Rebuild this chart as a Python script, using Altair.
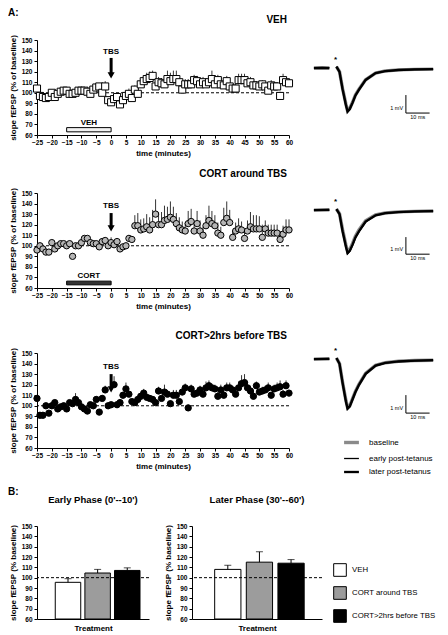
import altair as alt
import pandas as pd

FONT = "Liberation Sans"

# ---------------- time-course data (minutes, % of baseline) ----------------
time_min = [-25, -24, -23, -22, -21, -20, -19, -18, -17, -16,
            -15, -14, -13, -12, -11, -10, -9, -8, -7, -6,
            -5, -4, -3, -2, -1, 0, 1, 2, 3, 4,
            5, 6, 7, 8, 9, 10, 11, 12, 13, 14,
            15, 16, 17, 18, 19, 20, 21, 22, 23, 24,
            25, 26, 27, 28, 29, 30, 31, 32, 33, 34,
            35, 36, 37, 38, 39, 40, 41, 42, 43, 44,
            45, 46, 47, 48, 49, 50, 51, 52, 53, 54,
            55, 56, 57, 58, 59, 60]

veh_slope = [104, 97, 96, 95, 96, 100, 96, 99, 101, 102,
             102, 99, 99, 100, 102, 102, 102, 101, 99, 103,
             105, 106, 100, 106, 93, 91, 94, 96, 89, 93,
             97, 99, 95, 103, 99, 108, 111, 113, 114, 116,
             106, 110, 109, 108, 113, 111, 113, 113, 110, 103,
             108, 108, 108, 112, 111, 108, 110, 108, 110, 113,
             108, 112, 108, 107, 111, 106, 104, 104, 112, 112,
             112, 109, 110, 107, 107, 106, 108, 106, 102, 107,
             106, 106, 97, 112, 110, 109]
veh_sem = [3, 2, 2, 2, 2, 2, 2, 2, 2, 2,
           2, 2, 2, 2, 2, 2, 3, 2, 2, 3,
           3, 3, 2, 5, 3, 2, 3, 3, 3, 3,
           4, 5, 4, 4, 4, 5, 5, 6, 6, 5,
           4, 5, 5, 5, 8, 8, 8, 8, 5, 4,
           5, 5, 6, 5, 5, 5, 5, 5, 5, 8,
           5, 5, 6, 5, 5, 4, 4, 4, 6, 6,
           6, 5, 5, 4, 4, 4, 4, 4, 4, 5,
           4, 4, 4, 6, 5, 4]

cort_tbs_slope = [96, 100, 97, 94, 94, 103, 97, 100, 102, 102,
                  100, 102, 90, 100, 100, 103, 107, 107, 103, 102,
                  102, 99, 104, 105, 100, 103, 101, 104, 97, 99,
                  100, 107, 106, 119, 119, 115, 116, 118, 115, 120,
                  130, 120, 120, 124, 125, 127, 125, 121, 117, 115,
                  114, 121, 123, 114, 121, 114, 110, 119, 124, 121,
                  119, 112, 110, 122, 126, 122, 108, 114, 116, 115,
                  107, 114, 118, 116, 116, 116, 108, 116, 112, 112,
                  112, 112, 106, 111, 115, 115]
cort_tbs_sem = [2, 2, 2, 2, 2, 2, 2, 2, 2, 2,
                2, 2, 3, 2, 2, 2, 2, 2, 3, 2,
                2, 2, 3, 3, 2, 5, 2, 3, 2, 2,
                2, 3, 3, 10, 12, 10, 10, 12, 12, 14,
                14, 12, 12, 14, 12, 15, 12, 10, 10, 8,
                8, 12, 12, 10, 12, 10, 8, 10, 14, 12,
                10, 10, 8, 14, 16, 12, 6, 8, 10, 8,
                8, 10, 14, 13, 13, 12, 12, 8, 8, 8,
                8, 8, 8, 8, 10, 10]

cort_pre_slope = [107, 91, 91, 100, 93, 100, 103, 97, 99, 100,
                  97, 103, 102, 106, 103, 99, 97, 95, 101, 100,
                  106, 94, 107, 115, 100, 101, 120, 101, 103, 110,
                  116, 111, 104, 103, 106, 109, 112, 108, 107, 106,
                  103, 114, 107, 113, 111, 102, 110, 110, 104, 113,
                  117, 98, 116, 111, 112, 115, 111, 117, 119, 117,
                  116, 109, 115, 110, 117, 117, 115, 111, 117, 121,
                  122, 117, 114, 109, 119, 113, 114, 115, 117, 110,
                  116, 117, 118, 111, 119, 112]
cort_pre_sem = [3, 2, 2, 2, 2, 2, 2, 2, 2, 2,
                2, 2, 3, 6, 3, 2, 2, 2, 2, 2,
                3, 2, 3, 4, 2, 2, 8, 2, 3, 3,
                6, 3, 2, 3, 3, 3, 4, 3, 3, 3,
                3, 4, 3, 7, 4, 3, 5, 5, 3, 4,
                4, 3, 4, 4, 3, 4, 4, 6, 5, 4,
                4, 4, 5, 4, 5, 5, 4, 5, 6, 8,
                8, 6, 5, 4, 4, 3, 4, 4, 5, 3,
                4, 5, 6, 4, 5, 3]

x_ticks = [-25, -20, -15, -10, -5, 0, 5, 10, 15, 20, 25, 30, 35, 40, 45, 50, 55, 60]
y_ticks = [60, 70, 80, 90, 100, 110, 120, 130, 140, 150]

# TBS label / arrow (in % units), drug application bar
tbs_label_y = [139, 138, 137]
arrow_top = [133, 131, 130]
arrow_head = [116.5, 116.5, 115.5]
drug_start = -15
drug_end = 0

# ---------------- example traces (ms, mV) ----------------
trace_ms = [2.5, 6.0, 9.0, 12.0, 13.3, 14.6, 16.0, 16.7, 17.6, 18.8,
            20.0, 21.5, 24.3, 28.5, 32.6, 38.2, 45.0, 52.8]
trace_seg = ["pre", "pre", "pre"] + ["post"] * 15
series_names = ["baseline", "early post-tetanus", "later post-tetanus"]
series_width_order = ["baseline", "later post-tetanus", "early post-tetanus"]

veh_traces = [
    [0.0, 0.02, 0.0, 0.08, -0.2, -1.15, -2.0, -2.38, -2.25, -1.9, -1.5, -1.18, -0.65, -0.28, -0.16, -0.1, -0.07, -0.06],
    [0.0, 0.0, 0.02, 0.08, -0.22, -1.2, -2.08, -2.44, -2.3, -1.94, -1.55, -1.22, -0.67, -0.28, -0.17, -0.11, -0.08, -0.07],
    [0.0, 0.01, 0.0, 0.08, -0.21, -1.18, -2.05, -2.42, -2.28, -1.92, -1.52, -1.2, -0.66, -0.28, -0.17, -0.11, -0.07, -0.06],
]
cort_tbs_traces = [
    [0.0, 0.0, 0.02, 0.06, -0.2, -1.1, -1.95, -2.3, -2.2, -1.85, -1.45, -1.1, -0.6, -0.27, -0.16, -0.1, -0.07, -0.05],
    [0.0, 0.02, 0.0, 0.06, -0.22, -1.2, -2.05, -2.42, -2.3, -1.95, -1.55, -1.2, -0.66, -0.3, -0.17, -0.11, -0.08, -0.06],
    [0.0, 0.01, 0.01, 0.06, -0.22, -1.18, -2.02, -2.39, -2.27, -1.92, -1.52, -1.18, -0.64, -0.29, -0.17, -0.11, -0.07, -0.06],
]
cort_pre_traces = [
    [0.0, 0.0, 0.02, 0.06, -0.25, -1.3, -2.3, -2.7, -2.6, -2.2, -1.8, -1.4, -0.8, -0.35, -0.2, -0.12, -0.08, -0.06],
    [0.0, 0.02, 0.0, 0.06, -0.27, -1.35, -2.38, -2.78, -2.66, -2.26, -1.86, -1.45, -0.84, -0.37, -0.22, -0.13, -0.09, -0.07],
    [0.0, 0.01, 0.01, 0.06, -0.26, -1.33, -2.35, -2.75, -2.63, -2.23, -1.83, -1.43, -0.82, -0.36, -0.21, -0.13, -0.08, -0.06],
]
trace_ydomains = [[-3.72, 1.56], [-4.33, 0.95], [-4.94, 0.34]]
scalebar_ms = [41.3, 51.3]
scalebar_mv = [[-1.5, -2.5], [-1.5, -2.45], [-2.0, -3.0]]
stim_ms = 11.6
stim_mv = 0.45

# ---------------- summary bars ----------------
groups = ["VEH", "CORT around TBS", "CORT>2hrs before TBS"]
bar_colors = ["#ffffff", "#9c9c9c", "#000000"]
early_mean = [95.5, 104.5, 107.0]
early_sem = [3.5, 3.5, 2.5]
later_mean = [108.0, 115.0, 114.0]
later_sem = [4.0, 10.0, 3.5]
bar_floor = 60

TC_W, TC_H = 252, 95


def note(text, px, py, size, align="left", baseline="alphabetic", weight="bold"):
    """A free text label positioned in pixels relative to the panel's plot area."""
    return alt.Chart(pd.DataFrame({"lab": [text]})).mark_text(
        fontWeight=weight, fontSize=size, font=FONT, align=align, baseline=baseline, color="black"
    ).encode(x=alt.value(px), y=alt.value(py), text="lab:N")


def tc_panel(vals, errs, marker, fill, size, title, idx, toff,
             drug_label=None, drug_fill=None, drug_lo=None, drug_hi=None, corner=None):
    df = pd.DataFrame({"t": time_min, "v": vals,
                       "hi": [a + b for a, b in zip(vals, errs)]})
    xs = alt.Scale(domain=[-25, 60], nice=False, zero=False)
    ys = alt.Scale(domain=[60, 150], nice=False, zero=False)
    X = alt.X("t:Q", scale=xs, axis=alt.Axis(values=x_ticks, title="time (minutes)", labelOverlap=False,
                                             labelFlush=False, titlePadding=4, labelPadding=1))
    Y = alt.Y("v:Q", scale=ys, axis=alt.Axis(values=y_ticks, title="slope fEPSP (% of baseline)",
                                             labelOverlap=False, labelFlush=False, titlePadding=4,
                                             labelPadding=2))
    layers = []
    layers.append(alt.Chart(pd.DataFrame({"v": [100]})).mark_rule(
        color="black", strokeDash=[3, 2], strokeWidth=1).encode(y=Y))
    layers.append(alt.Chart(df).mark_rule(color="black", strokeWidth=0.8).encode(
        x=X, y=Y, y2="hi:Q"))
    layers.append(alt.Chart(df).mark_point(shape=marker, filled=True, fill=fill, stroke="black",
                                           strokeWidth=1, size=size, opacity=1).encode(x=X, y=Y))
    lab = pd.DataFrame({"t": [0], "v": [tbs_label_y[idx]], "lab": ["TBS"]})
    layers.append(alt.Chart(lab).mark_text(fontWeight="bold", fontSize=8, font=FONT,
                                           color="black").encode(x=X, y=Y, text="lab:N"))
    arr = pd.DataFrame({"t": [0], "v": [arrow_top[idx]], "v2": [arrow_head[idx]]})
    layers.append(alt.Chart(arr).mark_rule(color="black", strokeWidth=3).encode(
        x=X, y=Y, y2="v2:Q"))
    head = pd.DataFrame({"t": [0], "v": [arrow_head[idx]]})
    layers.append(alt.Chart(head).mark_point(shape="triangle-down", filled=True, color="black",
                                             size=50, opacity=1).encode(x=X, y=Y))
    if drug_label is not None:
        rect = pd.DataFrame({"t": [drug_start], "t2": [drug_end], "v": [drug_lo], "v2": [drug_hi]})
        layers.append(alt.Chart(rect).mark_rect(fill=drug_fill, stroke="black", strokeWidth=1).encode(
            x=X, x2="t2:Q", y=Y, y2="v2:Q"))
        dl = pd.DataFrame({"t": [(drug_start + drug_end) / 2], "v": [71.5], "lab": [drug_label]})
        layers.append(alt.Chart(dl).mark_text(fontWeight="bold", fontSize=8, font=FONT,
                                              color="black").encode(x=X, y=Y, text="lab:N"))
    layers.append(note(title, TC_W - 2, -toff, 10, align="right"))
    if corner is not None:
        layers.append(note(corner, -29, -32, 10, baseline="top"))
    return alt.layer(*layers).properties(width=TC_W, height=TC_H)


def trace_panel(traces, idx, show_legend):
    rows = []
    for name, vals in zip(series_names, traces):
        for ms, mv, sg in zip(trace_ms, vals, trace_seg):
            rows.append({"ms": ms, "mv": mv, "series": name, "seg": sg})
    df = pd.DataFrame(rows)
    xs = alt.Scale(domain=[0, 54], nice=False, zero=False)
    ys = alt.Scale(domain=trace_ydomains[idx], nice=False, zero=False)
    X = alt.X("ms:Q", scale=xs, axis=None)
    Y = alt.Y("mv:Q", scale=ys, axis=None)
    if show_legend:
        leg = alt.Legend(orient="none", legendX=34, legendY=80, title=None, symbolType="stroke",
                         symbolSize=220, labelFont=FONT, labelFontSize=8, labelFontWeight="normal",
                         rowPadding=0, labelOffset=8, values=series_names)
    else:
        leg = None
    lines = alt.Chart(df).mark_line().encode(
        x=X, y=Y,
        color=alt.Color("series:O", scale=alt.Scale(domain=series_width_order,
                                                   range=["#8a8a8a", "#000000", "#000000"]), legend=leg),
        strokeWidth=alt.StrokeWidth("series:O", scale=alt.Scale(type="point", domain=series_width_order,
                                                                 range=[3.4, 1.3]), legend=leg),
        detail="seg:N")
    top, bot = scalebar_mv[idx]
    vb = alt.Chart(pd.DataFrame({"ms": [scalebar_ms[0]], "mv": [top], "mv2": [bot]})).mark_rule(
        color="black", strokeWidth=1).encode(x=X, y=Y, y2="mv2:Q")
    hb = alt.Chart(pd.DataFrame({"ms": [scalebar_ms[0]], "ms2": [scalebar_ms[1]], "mv": [bot]})).mark_rule(
        color="black", strokeWidth=1).encode(x=X, x2="ms2:Q", y=Y)
    mvlab = alt.Chart(pd.DataFrame({"ms": [scalebar_ms[0] - 1.2], "mv": [bot + 0.3], "lab": ["1 mV"]})).mark_text(
        fontSize=5.5, font=FONT, align="right", color="black").encode(x=X, y=Y, text="lab:N")
    mslab = alt.Chart(pd.DataFrame({"ms": [(scalebar_ms[0] + scalebar_ms[1]) / 2], "mv": [bot - 0.12],
                                    "lab": ["10 ms"]})).mark_text(
        fontSize=5.5, font=FONT, baseline="top", color="black").encode(x=X, y=Y, text="lab:N")
    star = alt.Chart(pd.DataFrame({"ms": [stim_ms], "mv": [stim_mv], "lab": ["*"]})).mark_text(
        fontSize=8, font=FONT, fontWeight="bold", color="black").encode(x=X, y=Y, text="lab:N")
    return alt.layer(lines, vb, hb, mvlab, mslab, star).properties(width=128, height=TC_H)


def bar_panel(means, sems, title, ytitle, width, pin, pout, align, show_legend, corner=None):
    df = pd.DataFrame({"treatment": groups, "m": means, "hi": [a + b for a, b in zip(means, sems)]})
    X = alt.X("treatment:N", scale=alt.Scale(domain=groups, paddingInner=pin, paddingOuter=pout, align=align),
              axis=alt.Axis(title="Treatment", labels=False, ticks=False, titlePadding=5))
    ys = alt.Scale(domain=[60, 150], nice=False, zero=False)
    Y = alt.Y("m:Q", scale=ys, axis=alt.Axis(values=y_ticks, title=ytitle, labelOverlap=False,
                                             labelFlush=False, titlePadding=4, labelPadding=2))
    if show_legend:
        leg = alt.Legend(orient="none", legendX=141, legendY=37, title=None, symbolType="square",
                         symbolSize=160, symbolStrokeColor="black", symbolStrokeWidth=1,
                         labelFont=FONT, labelFontSize=7.8, labelFontWeight="normal",
                         rowPadding=5, labelOffset=5)
    else:
        leg = None
    layers = [
        alt.Chart(df).mark_bar(stroke="black", strokeWidth=1).encode(
            x=X, y=Y, y2=alt.datum(bar_floor),
            fill=alt.Fill("treatment:N", scale=alt.Scale(domain=groups, range=bar_colors), legend=leg)),
        alt.Chart(df).mark_rule(color="black", strokeWidth=1).encode(x=X, y=Y, y2="hi:Q"),
        alt.Chart(df.rename(columns={"m": "mm", "hi": "m"})).mark_tick(
            orient="horizontal", size=7, thickness=1, color="black").encode(x=X, y=Y),
        alt.Chart(pd.DataFrame({"m": [100]})).mark_rule(
            color="black", strokeDash=[3, 2], strokeWidth=1).encode(y=Y),
        note(title, width / 2, -23, 9.5, align="center"),
    ]
    if corner is not None:
        layers.append(note(corner, -29, -39, 10, baseline="top"))
    return alt.layer(*layers).properties(width=width, height=93)


RES = dict(color="independent", strokeWidth="independent", fill="independent")

tc1 = tc_panel(veh_slope, veh_sem, "square", "white", 50, "VEH", 0, 17,
               drug_label="VEH", drug_fill="#f2f2f2", drug_lo=63, drug_hi=67, corner="A:")
tc2 = tc_panel(cort_tbs_slope, cort_tbs_sem, "circle", "#b5b5b5", 40, "CORT around TBS", 1, 16,
               drug_label="CORT", drug_fill="#333333", drug_lo=63, drug_hi=66.5)
tc3 = tc_panel(cort_pre_slope, cort_pre_sem, "circle", "#000000", 40, "CORT>2hrs before TBS", 2, 14)

row1 = alt.hconcat(tc1, trace_panel(veh_traces, 0, False), spacing=12).resolve_scale(**RES)
row2 = alt.hconcat(tc2, trace_panel(cort_tbs_traces, 1, False), spacing=12).resolve_scale(**RES)
row3 = alt.hconcat(tc3, trace_panel(cort_pre_traces, 2, True), spacing=12).resolve_scale(**RES)

b1 = bar_panel(early_mean, early_sem, "Early Phase (0'--10')", "slope fEPSP (% baseline)",
               112, 0.14, 0.46, 0.67, False, corner="B:")
b2 = bar_panel(later_mean, later_sem, "Later Phase (30'--60')", "slope fEPSP  (% baseline)",
               130, 0.17, 0.64, 0.56, True)
rowB = alt.hconcat(b1, b2, spacing=14).resolve_scale(**RES)

top12 = alt.vconcat(row1, row2, spacing=11).resolve_scale(**RES)
top123 = alt.vconcat(top12, row3, spacing=20).resolve_scale(**RES)
chart = alt.vconcat(top123, rowB, spacing=10).resolve_scale(**RES).properties(padding=0)

chart = chart.configure(font=FONT).configure_view(stroke=None).configure_axis(
    labelFont=FONT, labelFontWeight="bold", labelFontSize=6.5, labelColor="black",
    titleFont=FONT, titleFontWeight="bold", titleFontSize=8, titleColor="black",
    domainColor="black", tickColor="black", grid=False, tickSize=3, domainWidth=1, tickWidth=1
).configure_title(font=FONT, fontWeight="bold", color="black")

chart.save("out.html", embed_options={"renderer": "svg", "actions": False})
